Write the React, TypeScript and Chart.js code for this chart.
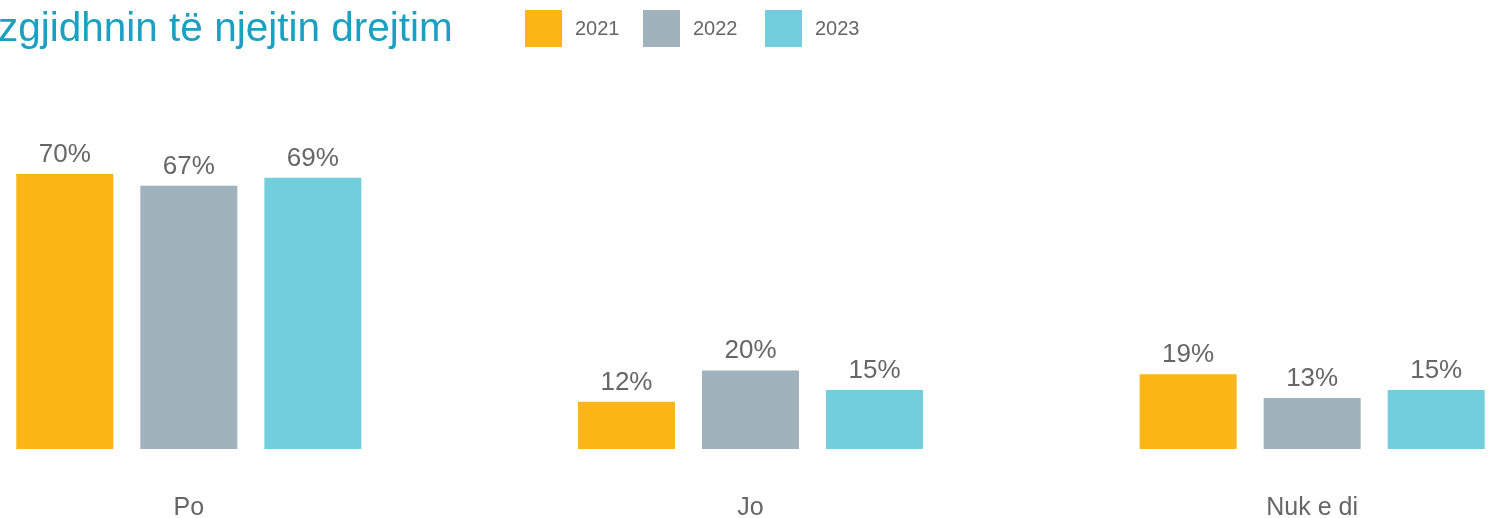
import React, { useEffect, useRef } from "react";
import { Chart, registerables } from "chart.js";

Chart.register(...registerables);

const TITLE = "zgjidhnin të njejtin drejtim";
const CATEGORIES = ["Po", "Jo", "Nuk e di"];
const YEARS = ["2021", "2022", "2023"];
const VALUES_2021 = [70, 12, 19];
const VALUES_2022 = [67, 20, 13];
const VALUES_2023 = [69, 15, 15];
const COLORS = ["#FBB515", "#A0B2BC", "#72CEDC"];

const FONT = "'Liberation Sans', Arial, sans-serif";

const valueLabels = {
  id: "valueLabels",
  afterDatasetsDraw(chart: any) {
    const ctx = chart.ctx;
    ctx.save();
    ctx.font = `26px ${FONT}`;
    ctx.fillStyle = "#666666";
    ctx.textAlign = "center";
    ctx.textBaseline = "alphabetic";
    chart.data.datasets.forEach((ds: any, i: number) => {
      const meta = chart.getDatasetMeta(i);
      meta.data.forEach((el: any, j: number) => {
        ctx.fillText(`${ds.data[j]}%`, el.x, el.y - 12);
      });
    });
    ctx.restore();
  },
};

export default function App() {
  const ref = useRef<HTMLCanvasElement>(null);
  useEffect(() => {
    if (!ref.current) return;
    const chart = new Chart(ref.current, {
      type: "bar",
      data: {
        labels: CATEGORIES,
        datasets: [VALUES_2021, VALUES_2022, VALUES_2023].map((d, i) => ({
          label: YEARS[i],
          data: d,
          backgroundColor: COLORS[i],
          borderWidth: 0,
          barPercentage: 0.782,
          categoryPercentage: 0.6625,
        })),
      },
      options: {
        responsive: false,
        animation: false,
        layout: { padding: { top: 56, bottom: 0, left: 0, right: 0 } },
        plugins: { legend: { display: false }, tooltip: { enabled: false } },
        scales: {
          y: { display: false, min: 0, max: 100 },
          x: {
            grid: { display: false, drawTicks: false },
            border: { display: false },
            ticks: {
              padding: 47,
              color: "#666666",
              font: { family: FONT, size: 25, lineHeight: 1.0 },
            },
          },
        },
      },
      plugins: [valueLabels],
    });
    return () => chart.destroy();
  }, []);

  return (
    <div
      style={{
        position: "absolute",
        left: 0,
        top: 0,
        width: 1492,
        height: 518,
        overflow: "hidden",
        background: "#ffffff",
        fontFamily: FONT,
      }}
    >
      <canvas
        ref={ref}
        width={1685}
        height={568}
        style={{ position: "absolute", left: -92, top: 0, width: 1685, height: 568 }}
      />
      <div
        style={{
          position: "absolute",
          left: -2,
          top: -1,
          fontSize: 40.5,
          lineHeight: "56px",
          color: "#1AA0C2",
          whiteSpace: "nowrap",
        }}
      >
        {TITLE}
      </div>
      {YEARS.map((y, i) => (
        <div
          key={y}
          style={{
            position: "absolute",
            left: [525, 643, 765][i],
            top: 10,
            height: 37,
            display: "flex",
            alignItems: "center",
            whiteSpace: "nowrap",
          }}
        >
          <span style={{ display: "inline-block", width: 37, height: 37, background: COLORS[i] }} />
          <span style={{ marginLeft: 13, fontSize: 20, color: "#666666" }}>{y}</span>
        </div>
      ))}
    </div>
  );
}
